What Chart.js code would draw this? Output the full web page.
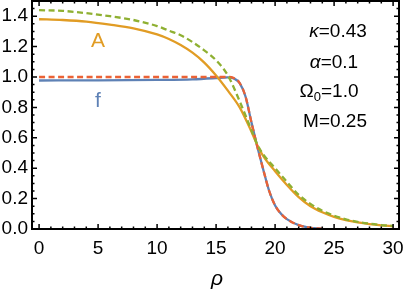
<!DOCTYPE html>
<html>
<head>
<meta charset="utf-8">
<script src="https://cdn.jsdelivr.net/npm/chart.js@4"></script>
<style>
  html, body { margin: 0; padding: 0; background: #fff; }
  #wrap { width: 407px; height: 290px; }
</style>
</head>
<body>
<div id="wrap"><canvas id="chart" width="407" height="290"></canvas></div>
<script>
// values
const rhoA = [0, 2, 4, 6, 8, 10, 11, 12, 13, 14, 15, 16, 17, 18, 18.5, 19, 20, 21, 22, 23, 24, 25, 26, 27, 28, 29, 30];
const aVals = [1.38, 1.375, 1.365, 1.345, 1.32, 1.28, 1.25, 1.21, 1.16, 1.095, 1.01, 0.91, 0.8, 0.64, 0.55, 0.48, 0.38, 0.29, 0.21, 0.15, 0.11, 0.08, 0.058, 0.043, 0.032, 0.024, 0.018];
const a0Vals = [1.44, 1.435, 1.42, 1.4, 1.375, 1.335, 1.305, 1.275, 1.23, 1.175, 1.11, 1.01, 0.84, 0.65, 0.555, 0.49, 0.4, 0.31, 0.225, 0.165, 0.12, 0.088, 0.064, 0.047, 0.035, 0.026, 0.02];

const rhoF = [0, 5, 10, 13, 15, 16, 16.5, 17, 17.5, 18, 18.5, 19, 19.5, 20, 20.5, 21, 22, 23, 24];
const fVals = [0.977, 0.978, 0.981, 0.985, 0.993, 0.998, 0.99, 0.96, 0.87, 0.7, 0.54, 0.39, 0.25, 0.155, 0.1, 0.065, 0.025, 0.008, 0.002];
const f0Vals = [1.0, 1.0, 1.0, 1.0, 1.0, 1.0, 0.993, 0.96, 0.87, 0.7, 0.54, 0.39, 0.25, 0.155, 0.1, 0.065, 0.025, 0.008, 0.002];

const xTicks = [0, 5, 10, 15, 20, 25, 30];
const yTicks = [0, 0.2, 0.4, 0.6, 0.8, 1.0, 1.2, 1.4];

const params = [
  { sym: "\u03BA", sub: "", val: "=0.43", x: 338, y: 32, italic: true },
  { sym: "\u03B1", sub: "", val: "=0.1", x: 334, y: 63, italic: true },
  { sym: "\u03A9", sub: "0", val: "=1.0", x: 329, y: 92, italic: false },
  { sym: "M", sub: "", val: "=0.25", x: 335, y: 122, italic: false }
];

const FONT = "'Liberation Sans', Arial, sans-serif";

function pts(xs, ys) {
  return xs.map((x, i) => ({ x: x, y: ys[i] }));
}

// frame with inward ticks on all four sides + text labels
const framePlugin = {
  id: "frame",
  afterDraw(chart) {
    const ctx = chart.ctx;
    const a = chart.chartArea;
    const xs = chart.scales.x, ys = chart.scales.y;
    ctx.save();
    ctx.strokeStyle = "#000";
    ctx.lineWidth = 2;
    ctx.strokeRect(a.left, a.top, a.right - a.left, a.bottom - a.top);

    ctx.lineWidth = 1.5;
    // x ticks (major every 5, minor every 1)
    for (let v = 0; v <= 30; v += 1) {
      const px = xs.getPixelForValue(v);
      const len = v % 5 === 0 ? 5 : 2.5;
      ctx.beginPath();
      ctx.moveTo(px, a.bottom); ctx.lineTo(px, a.bottom - len);
      ctx.moveTo(px, a.top); ctx.lineTo(px, a.top + len);
      ctx.stroke();
    }
    // y ticks (major every 0.2, minor every 0.05)
    for (let k = 0; k <= 30; k++) {
      const v = k * 0.05;
      const py = ys.getPixelForValue(v);
      const len = k % 4 === 0 ? 5 : 2.5;
      ctx.beginPath();
      ctx.moveTo(a.left, py); ctx.lineTo(a.left + len, py);
      ctx.moveTo(a.right, py); ctx.lineTo(a.right - len, py);
      ctx.stroke();
    }

    // curve labels
    ctx.textAlign = "center";
    ctx.textBaseline = "middle";
    ctx.font = "21px " + FONT;
    ctx.fillStyle = "#E19C24";
    ctx.fillText("A", 98, 41);
    ctx.fillStyle = "#5E81B5";
    ctx.fillText("f", 98, 101);

    // axis title
    ctx.fillStyle = "#000";
    ctx.font = "italic 21px " + FONT;
    ctx.fillText("\u03C1", 217, 279);

    // parameters
    ctx.textAlign = "left";
    params.forEach(function (p) {
      const symFont = (p.italic ? "italic " : "") + "19px " + FONT;
      ctx.font = symFont;
      const w1 = ctx.measureText(p.sym).width;
      ctx.font = "13px " + FONT;
      const w2 = p.sub ? ctx.measureText(p.sub).width : 0;
      ctx.font = "19px " + FONT;
      const w3 = ctx.measureText(p.val).width;
      let x = p.x - (w1 + w2 + w3) / 2;
      ctx.font = symFont;
      ctx.fillText(p.sym, x, p.y);
      x += w1;
      if (p.sub) {
        ctx.font = "13px " + FONT;
        ctx.fillText(p.sub, x, p.y + 5);
        x += w2;
      }
      ctx.font = "19px " + FONT;
      ctx.fillText(p.val, x, p.y);
    });
    ctx.restore();
  }
};

const lineBase = {
  pointRadius: 0,
  borderWidth: 2.3,
  fill: false,
  cubicInterpolationMode: "monotone"
};

new Chart(document.getElementById("chart"), {
  type: "line",
  data: {
    datasets: [
      Object.assign({}, lineBase, { label: "A0", data: pts(rhoA, a0Vals), borderColor: "#8FB032", borderDash: [6, 3.5] }),
      Object.assign({}, lineBase, { label: "f0", data: pts(rhoF, f0Vals), borderColor: "#EB6235", borderDash: [6, 3.5] }),
      Object.assign({}, lineBase, { label: "A", data: pts(rhoA, aVals), borderColor: "#E19C24" }),
      Object.assign({}, lineBase, { label: "f", data: pts(rhoF, fVals), borderColor: "#5E81B5" })
    ]
  },
  options: {
    responsive: false,
    animation: false,
    layout: { padding: { top: 1, right: 8, left: 0, bottom: 0 } },
    plugins: { legend: { display: false }, tooltip: { enabled: false } },
    scales: {
      x: {
        type: "linear",
        min: -0.6,
        max: 30.5,
        afterBuildTicks: (s) => { s.ticks = xTicks.map(v => ({ value: v })); },
        afterFit: (s) => { s.height = 61; s.paddingLeft = 0; s.paddingRight = 0; },
        grid: { display: false, drawTicks: false },
        border: { display: false },
        ticks: {
          color: "#000",
          font: { family: FONT, size: 19 },
          padding: 8,
          maxRotation: 0,
          callback: (v) => String(v)
        }
      },
      y: {
        type: "linear",
        min: 0,
        max: 1.5,
        afterBuildTicks: (s) => { s.ticks = yTicks.map(v => ({ value: v })); },
        afterFit: (s) => { s.width = 32; s.paddingTop = 0; s.paddingBottom = 0; },
        grid: { display: false, drawTicks: false },
        border: { display: false },
        ticks: {
          color: "#000",
          font: { family: FONT, size: 19 },
          padding: 4,
          callback: (v) => Number(v).toFixed(1)
        }
      }
    }
  },
  plugins: [framePlugin]
});
</script>
</body>
</html>
